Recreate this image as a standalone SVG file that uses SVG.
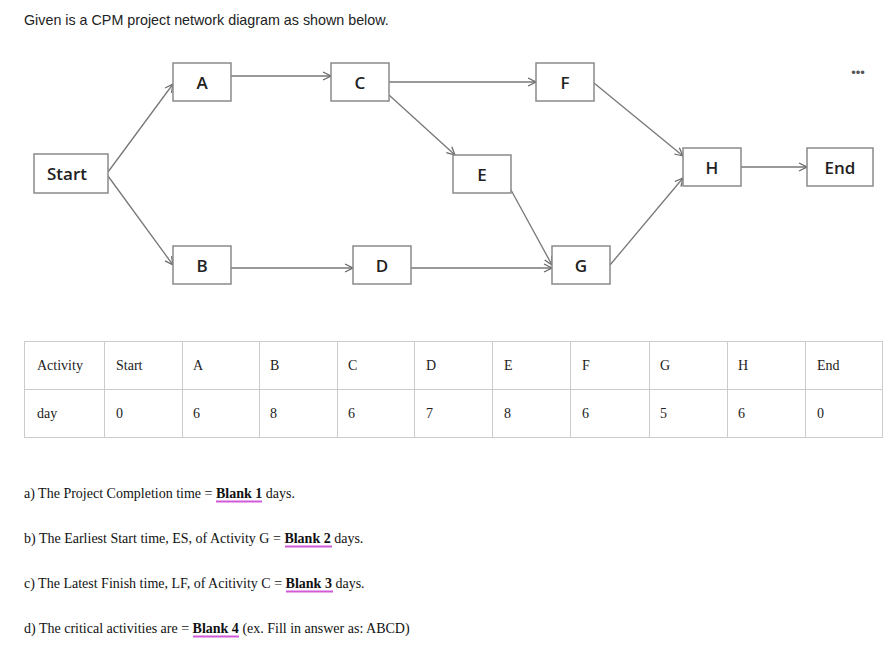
<svg xmlns="http://www.w3.org/2000/svg" width="894" height="650" viewBox="0 0 894 650">
<defs>
<style>
.box{fill:#fff;stroke:#8a8a8a;stroke-width:1.5}
.nl{font-family:"Open Sans","DejaVu Sans",sans-serif;font-size:17px;fill:#222;text-anchor:middle;font-weight:600}
.ed{stroke:#777;stroke-width:1.3;fill:none;marker-end:url(#ah)}
.t{font-family:"Liberation Serif",serif;font-size:14px;fill:#222}
.q{font-family:"Liberation Serif",serif;font-size:14px;fill:#111}
.grid{stroke:#ccc;stroke-width:1;fill:none}
</style>
<marker id="ah" markerWidth="10" markerHeight="10" refX="9" refY="5" orient="auto" markerUnits="userSpaceOnUse">
<path d="M1,1 L9,5 L1,9" fill="none" stroke="#666" stroke-width="1.2"/>
</marker>
</defs>
<rect width="894" height="650" fill="#fff"/>
<text x="24" y="25" font-family="Liberation Sans,Arial,sans-serif" font-size="14.3" fill="#222">Given is a CPM project network diagram as shown below.</text>
<text x="858" y="77" font-family="Liberation Sans,sans-serif" font-size="13" fill="#555" text-anchor="middle">•••</text>
<g id="connectors">
<line class="ed" x1="108" y1="172" x2="173" y2="84"/>
<line class="ed" x1="108" y1="176" x2="173" y2="265"/>
<line class="ed" x1="231" y1="76" x2="331" y2="76"/>
<line class="ed" x1="389" y1="82" x2="536" y2="82"/>
<line class="ed" x1="389" y1="95" x2="455" y2="155"/>
<line class="ed" x1="231" y1="268" x2="353" y2="268"/>
<line class="ed" x1="411" y1="268" x2="552" y2="268"/>
<line class="ed" x1="511" y1="190" x2="552" y2="265"/>
<line class="ed" x1="594" y1="83" x2="683" y2="156"/>
<line class="ed" x1="610" y1="265" x2="683" y2="178"/>
<line class="ed" x1="741" y1="167" x2="807" y2="167"/>
</g>
<g id="Start"><rect class="box" x="34" y="154" width="74" height="39"/><text class="nl" x="67" y="180">Start</text></g>
<g id="A"><rect class="box" x="173" y="63" width="58" height="38"/><text class="nl" x="202" y="89">A</text></g>
<g id="C"><rect class="box" x="331" y="63" width="58" height="38"/><text class="nl" x="360" y="89">C</text></g>
<g id="F"><rect class="box" x="536" y="63" width="58" height="38"/><text class="nl" x="565" y="89">F</text></g>
<g id="E"><rect class="box" x="453" y="155" width="58" height="38"/><text class="nl" x="482" y="181">E</text></g>
<g id="H"><rect class="box" x="683" y="148" width="58" height="38"/><text class="nl" x="712" y="174">H</text></g>
<g id="End"><rect class="box" x="807" y="148" width="66" height="38"/><text class="nl" x="840" y="174">End</text></g>
<g id="B"><rect class="box" x="173" y="246" width="58" height="38"/><text class="nl" x="202" y="272">B</text></g>
<g id="D"><rect class="box" x="353" y="246" width="58" height="38"/><text class="nl" x="382" y="272">D</text></g>
<g id="G"><rect class="box" x="552" y="246" width="58" height="38"/><text class="nl" x="581" y="272">G</text></g>
<g id="table">
<rect class="grid" x="24.5" y="341.5" width="858" height="96"/>
<line class="grid" x1="24" y1="389.5" x2="882" y2="389.5"/>
<path class="grid" d="M104.5,341V437M182.5,341V437M259.5,341V437M337.5,341V437M414.5,341V437M492.5,341V437M570.5,341V437M649.5,341V437M727.5,341V437M805.5,341V437"/>
<g class="t">
<text x="37" y="370">Activity</text><text x="116" y="370">Start</text><text x="193" y="370">A</text><text x="270" y="370">B</text><text x="348" y="370">C</text><text x="426" y="370">D</text><text x="504" y="370">E</text><text x="582" y="370">F</text><text x="660" y="370">G</text><text x="738" y="370">H</text><text x="817" y="370">End</text>
<text x="37" y="418">day</text><text x="116" y="418">0</text><text x="193" y="418">6</text><text x="270" y="418">8</text><text x="348" y="418">6</text><text x="426" y="418">7</text><text x="504" y="418">8</text><text x="582" y="418">6</text><text x="660" y="418">5</text><text x="738" y="418">6</text><text x="817" y="418">0</text>
</g>
</g>
<g class="q">
<text x="24" y="498">a) The Project Completion time = <tspan font-weight="bold">Blank 1</tspan> days.</text>
<text x="24" y="543">b) The Earliest Start time, ES, of Activity G = <tspan font-weight="bold">Blank 2</tspan> days.</text>
<text x="24" y="588">c) The Latest Finish time, LF, of Acitivity C = <tspan font-weight="bold">Blank 3</tspan> days.</text>
<text x="24" y="633">d) The critical activities are = <tspan font-weight="bold">Blank 4</tspan> (ex. Fill in answer as: ABCD)</text>
</g>
<g stroke="#d25ad8" stroke-width="2">
<line x1="216" y1="501.5" x2="262" y2="501.5"/>
<line x1="285" y1="546.5" x2="332" y2="546.5"/>
<line x1="286" y1="591.5" x2="333" y2="591.5"/>
<line x1="193" y1="636.5" x2="239" y2="636.5"/>
</g>
</svg>
